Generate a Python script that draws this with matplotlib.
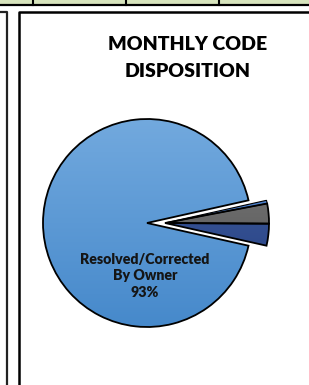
import numpy as np
from matplotlib import pyplot as plt
from matplotlib.colors import LinearSegmentedColormap

plt.rcParams['font.family'] = ['Lato', 'DejaVu Sans']

# slices, counter-clockwise from the big one
categories = ["Resolved/Corrected By Owner", "Escalated", "Deferred", "Other"]
shares = [93.0, 3.4, 3.1, 0.5]
label_text = "Resolved/Corrected\nBy Owner\n93%"
title = "MONTHLY CODE\nDISPOSITION"

# top/bottom colours of each slice gradient
grads = [("#72a9de", "#4689cb"),
         ("#4a64a3", "#1d3a7e"),
         ("#808080", "#4d4d4d"),
         ("#5b8fd6", "#3566b8")]

W, H = 309, 385
fig = plt.figure(figsize=(W / 100, H / 100), dpi=100)
ax = fig.add_axes([0, 0, 1, 1])

cx, cy, r = 147, H - 223, 104
shift = 18

wedges, _ = ax.pie(shares, startangle=12.6, counterclock=True,
                   center=(cx, cy), radius=r,
                   wedgeprops=dict(edgecolor="black", linewidth=1.3))

# pull the small slices out together, as one block
for w in wedges[1:]:
    w.set_center((cx + shift, cy))
wedges[3].set_linewidth(0.8)

grad = np.linspace(1, 0, 256).reshape(-1, 1)
for w, (c_top, c_bot) in zip(wedges, grads):
    wx, wy = w.center
    cmap = LinearSegmentedColormap.from_list("g", [c_bot, c_top])
    im = ax.imshow(grad[::-1], extent=(wx - r, wx + r, wy - r, wy + r),
                   cmap=cmap, aspect="auto", origin="lower", zorder=1)
    im.set_clip_path(w)
    w.set_facecolor("none")
    w.set_zorder(3)

ax.text(cx - 2, H - 276, label_text, ha="center", va="center",
        fontsize=10.2, fontweight="heavy", color="#151515", linespacing=1.3, zorder=4)
ax.text(188, H - 58, title, ha="center", va="center",
        fontsize=14, fontweight="heavy", color="black", linespacing=1.75)

# sheet cells and chart frame around the chart
ax.axhspan(H - 4, H, color="#d7e4bd", zorder=0)
ax.axhline(H - 4.5, color="black", lw=1.6)
for x in [32.5, 125.5, 218.5]:
    ax.plot([x, x], [H - 4.5, H], color="black", lw=1.5)
ax.plot([0, 6.5, 6.5], [H - 12, H - 12, 0], color="#222222", lw=1.6)
ax.plot([18.5, 18.5, W], [0, H - 12, H - 12], color="black", lw=1.8)

ax.set_xlim(0, W)
ax.set_ylim(0, H)
ax.set_aspect("auto")
ax.axis("off")

plt.savefig("out.png", dpi=100)
